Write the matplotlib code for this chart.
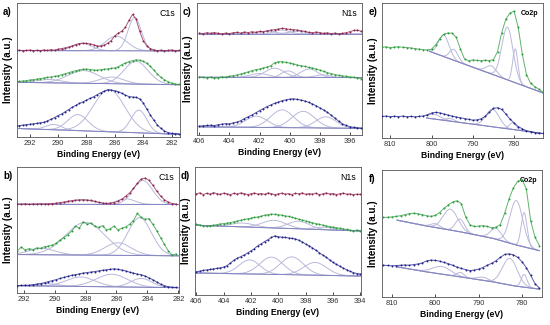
import numpy as np
import matplotlib
matplotlib.use('Agg')
import matplotlib.pyplot as plt

plt.rcParams['font.family'] = ['Liberation Sans', 'DejaVu Sans']

RED = '#8a1f4a'
GREEN = '#2b9a3c'
BLUE = '#1f1f88'
COMP = '#b9b9db'
BASE = '#7c7cbc'

# ---------- a) C1s ----------
a_lim = (293.0, 281.5)
a_red = [.645, .648, .643, .646, .649, .644, .647, .645, .650, .646, .652, .648,
         .655, .660, .665, .672, .680, .690, .697, .700, .698, .695, .688, .680,
         .678, .685, .700, .720, .755, .775, .790, .820, .870, .915, .880, .790,
         .720, .680, .660, .650, .645, .648, .643, .646, .650, .644, .646]
a_green = [.410, .415, .418, .420, .425, .428, .432, .436, .440, .445, .448, .452,
           .457, .465, .472, .480, .488, .495, .500, .505, .507, .503, .500, .498,
           .502, .505, .508, .512, .515, .525, .540, .552, .562, .570, .575, .573,
           .565, .550, .528, .500, .470, .445, .428, .412, .402, .396, .392]
a_blue = [.080, .085, .088, .092, .095, .098, .102, .106, .110, .120, .132, .145,
          .160, .172, .188, .205, .222, .236, .250, .262, .275, .288, .300, .315,
          .330, .342, .352, .350, .345, .338, .326, .312, .302, .298, .296, .285,
          .255, .210, .165, .125, .090, .065, .045, .033, .027, .025, .024]
a_base = {'red': ([293, 281.5], [.645, .642]),
          'green': ([293, 281.5], [.408, .390]),
          'blue': ([293, 281.5], [.064, .020])}
a_peaks = {'red': [(284.6, 1.1, .25), (285.9, 1.8, .11), (288.3, 1.6, .055)],
           'green': [(284.5, 2.0, .17), (286.2, 2.0, .05), (288.2, 2.6, .095), (290.6, 2.0, .025)],
           'blue': [(284.3, 1.3, .17), (286.4, 2.6, .315), (288.6, 1.7, .12), (290.3, 1.3, .04)]}

# ---------- b) C1s ----------
b_lim = (292.4, 282.15)
b_red = [.706, .704, .708, .703, .707, .705, .709, .706, .708, .710, .713, .718,
         .722, .728, .733, .737, .739, .740, .738, .735, .728, .720, .714, .711,
         .713, .718, .728, .745, .768, .795, .830, .870, .905, .912, .895, .855,
         .810, .770, .740, .720, .710, .706]
b_green = [.335, .365, .340, .352, .345, .358, .355, .368, .372, .380, .395, .420,
           .440, .462, .490, .530, .515, .565, .545, .555, .530, .520, .535, .500,
           .510, .530, .500, .515, .525, .545, .575, .632, .600, .585, .590, .545,
           .495, .440, .385, .335, .300, .310]
b_blue = [.058, .060, .062, .060, .066, .070, .075, .082, .090, .098, .106, .115,
          .124, .132, .140, .146, .152, .158, .162, .166, .170, .175, .180, .184,
          .188, .192, .188, .182, .175, .165, .158, .150, .145, .135, .120, .105,
          .088, .070, .058, .050, .046, .044]
b_base = {'red': ([292.4, 282.0], [.704, .702]),
          'green': ([292.4, 282.0], [.305, .295]),
          'blue': ([292.4, 282.0], [.058, .042])}
b_peaks = {'red': [(284.3, 1.5, .19), (285.4, 1.4, .045), (288.2, 1.8, .035)],
           'green': [(284.5, 1.8, .30), (285.9, 2.0, .10), (288.0, 3.0, .26), (290.8, 2.0, .05)],
           'blue': [(284.4, 1.6, .07), (286.3, 2.4, .10), (288.3, 2.2, .075), (290.5, 1.6, .02)]}

# ---------- c) N1s ----------
c_lim = (406.0, 395.25)
c_red = [.772, .768, .775, .770, .776, .770, .766, .772, .768, .775, .778, .772,
         .780, .776, .782, .778, .785, .782, .790, .794, .798, .803, .808, .805,
         .800, .798, .795, .790, .785, .778, .774, .780, .776, .770, .774, .768,
         .772, .766, .770, .775, .783, .792, .795, .785]
c_green = [.440, .436, .432, .438, .430, .434, .440, .438, .445, .450, .455, .462,
           .470, .478, .488, .495, .500, .508, .515, .525, .548, .555, .556, .550,
           .545, .540, .530, .525, .520, .512, .508, .500, .492, .482, .472, .465,
           .458, .452, .448, .445, .440, .438, .432, .428]
c_blue = [.068, .070, .072, .074, .071, .078, .082, .086, .084, .092, .098, .108,
          .125, .138, .152, .168, .185, .200, .215, .228, .240, .250, .260, .267,
          .272, .274, .270, .265, .258, .248, .236, .222, .206, .190, .172, .150,
          .128, .105, .085, .072, .063, .058, .055, .052]
c_base = {'red': ([406, 395.2], [.765, .765]),
          'green': ([406, 395.2], [.437, .435]),
          'blue': ([406, 395.2], [.062, .050])}
c_peaks = {'red': [(401.5, 1.4, .02), (400.5, 1.2, .03), (399.5, 1.4, .02)],
           'green': [(402.0, 1.4, .03), (401.0, 1.5, .07), (400.1, 1.0, .05), (398.7, 1.3, .065), (397.8, 1.2, .02)],
           'blue': [(402.2, 1.7, .085), (400.5, 1.8, .135), (399.1, 1.8, .125), (397.6, 1.6, .085)]}

# ---------- d) N1s ----------
d_lim = (406.0, 394.0)
d_red = [.790, .798, .785, .794, .788, .800, .792, .786, .796, .790, .784, .795,
         .788, .798, .792, .785, .790, .797, .788, .793, .786, .798, .791, .784,
         .790, .796, .788, .792, .785, .794, .790, .798, .786, .792, .788, .795,
         .784, .790, .797, .789, .793, .785, .791, .796, .787, .790, .784, .788, .786]
d_green = [.553, .548, .540, .536, .542, .545, .550, .555, .558, .562, .566, .572,
           .578, .584, .590, .595, .600, .606, .610, .616, .624, .628, .632, .630,
           .627, .624, .618, .614, .608, .600, .592, .586, .578, .572, .565, .558,
           .552, .546, .540, .535, .530, .526, .522, .516, .512, .508, .500, .508, .502]
d_blue = [.182, .186, .192, .196, .200, .204, .208, .212, .218, .230, .250, .272,
          .288, .300, .312, .328, .345, .362, .385, .400, .418, .432, .450, .462,
          .455, .452, .450, .446, .442, .438, .428, .415, .398, .385, .368, .350,
          .330, .312, .295, .275, .255, .240, .225, .210, .198, .185, .175, .168, .164]
d_base = {'green': ([406, 394], [.545, .500]),
          'blue': ([406, 394], [.172, .148])}
d_peaks = {'red': [],
           'green': [(402.6, 2.0, .03), (400.3, 2.0, .06), (398.5, 1.8, .06), (396.6, 1.8, .02)],
           'blue': [(402.1, 1.8, .11), (400.5, 2.0, .135), (399.0, 2.0, .14), (397.3, 2.0, .10)]}

# ---------- e) Co2p ----------
e_lim = (812.0, 773.0)
e_green = [.672, .675, .670, .673, .676, .672, .670, .667, .662, .658, .654, .652,
           .658, .690, .735, .768, .778, .776, .745, .660, .585, .572, .578, .575,
           .572, .576, .574, .580, .640, .780, .880, .925, .940, .820, .620, .470,
           .405, .380, .362, .340]
e_blue = [.160, .162, .158, .161, .159, .162, .158, .160, .157, .160, .163, .172,
          .185, .190, .186, .178, .170, .162, .155, .150, .144, .138, .132, .134,
          .142, .160, .190, .220, .224, .212, .178, .140, .112, .085, .068, .054,
          .048, .040, .036, .034]
e_base = {'green': ([800.5, 773.0], [.642, .334]),
          'blue': ([801.2, 773.5], [.148, .035])}
e_peaks = {'green': [(797.0, 3.0, .16), (794.6, 2.4, .08), (785.5, 3.0, .06), (781.6, 3.2, .39), (779.7, 1.5, .25)],
           'blue': [(799.4, 4.0, .035), (795.5, 2.5, .02), (785.2, 3.8, .13), (780.3, 2.0, .05)]}

# ---------- f) Co2p ----------
f_lim = (812.0, 776.0)
f_green = [.626, .628, .630, .635, .640, .648, .656, .660, .655, .648, .640, .635,
           .642, .665, .698, .725, .748, .758, .735, .630, .568, .555, .558, .562,
           .555, .545, .550, .570, .660, .770, .860, .910, .925, .850, .600, .470, .405]
f_blue = [.250, .248, .245, .247, .250, .252, .250, .255, .260, .268, .285, .290,
          .288, .282, .272, .262, .250, .235, .225, .215, .208, .212, .220, .232,
          .250, .265, .285, .312, .335, .340, .332, .312, .278, .230, .170, .105, .070]
f_base = {'green': ([808.8, 801.9, 794.2, 786.5, 781.2, 776.0], [.605, .558, .513, .460, .408, .365]),
          'blue': ([808.8, 801.9, 794.2, 786.5, 781.2, 776.0], [.237, .197, .158, .118, .084, .062])}
f_peaks = {'green': [(800.0, 2.5, .03), (796.5, 4.0, .165), (794.3, 2.5, .10), (786.0, 3.0, .085), (781.3, 3.5, .35), (779.5, 1.6, .27)],
           'blue': [(798.5, 5.0, .06), (794.2, 2.0, .035), (789.0, 3.0, .025), (782.8, 4.0, .21), (779.5, 1.6, .10)]}


def spectrum(ax, lim, y, color, base=None, peaks=()):
    if base is not None:
        be, by = np.array(base[0], float), np.array(base[1], float)
        order = np.argsort(be)
        xx = np.linspace(be.min(), be.max(), 400)
        bb = np.interp(xx, be[order], by[order])
        for c, w, a in peaks:
            ax.plot(xx, bb + a * np.exp(-4 * np.log(2) * ((xx - c) / w) ** 2), color=COMP, lw=0.7, zorder=2)
        ax.plot(be, by, color=BASE, lw=0.6, zorder=3)
    x = np.linspace(lim[0], lim[1], len(y))
    ax.plot(x, y, color=color, lw=0.7, alpha=0.75, zorder=4)
    ax.plot(x, y, 'o', color=color, ms=1.4, mew=0, zorder=5)


def style(ax, lim, ticks, letter, tag, tagbold=False):
    ax.set_xlim(lim)
    ax.set_ylim(0, 1)
    ax.set_yticks([])
    ax.set_xticks(ticks)
    ax.tick_params(axis='x', direction='in', length=2, width=0.5, labelsize=5.3,
                   labelcolor='#333333', pad=2)
    for s in ax.spines.values():
        s.set_color('#555555')
        s.set_linewidth(0.6)
    ax.set_xlabel('Binding Energy (eV)', fontsize=6.2, fontweight='bold', labelpad=2)
    ax.set_ylabel('Intensity (a.u.)', fontsize=7, fontweight='bold', labelpad=3)
    ax.text(0.97, 0.92, tag, transform=ax.transAxes, ha='right', va='center',
            fontsize=5 if tagbold else 6.3, fontweight='bold' if tagbold else 'normal')
    ax.text(-0.085, 0.93, letter, transform=ax.transAxes, ha='left', va='center',
            fontsize=7, fontweight='bold')


fig = plt.figure(figsize=(5.5, 3.25), dpi=100)

axa = fig.add_axes([.0309, .5785, .2964, .4123])
spectrum(axa, a_lim, a_red, RED, a_base['red'], a_peaks['red'])
spectrum(axa, a_lim, a_green, GREEN, a_base['green'], a_peaks['green'])
spectrum(axa, a_lim, a_blue, BLUE, a_base['blue'], a_peaks['blue'])
style(axa, (292.9, 281.4), np.arange(292, 281, -2), 'a)', 'C1s')

axc = fig.add_axes([.3582, .5846, .3, .4062])
spectrum(axc, c_lim, c_red, RED, c_base['red'], c_peaks['red'])
spectrum(axc, c_lim, c_green, GREEN, c_base['green'], c_peaks['green'])
spectrum(axc, c_lim, c_blue, BLUE, c_base['blue'], c_peaks['blue'])
style(axc, (406.15, 395.2), np.arange(406, 395, -2), 'c)', 'N1s')

axe = fig.add_axes([.6945, .5754, .2927, .4154])
spectrum(axe, e_lim, e_green, GREEN, e_base['green'], e_peaks['green'])
spectrum(axe, e_lim, e_blue, BLUE, e_base['blue'], e_peaks['blue'])
style(axe, (812, 773), [810, 800, 790, 780], 'e)', 'Co2p', tagbold=True)

axb = fig.add_axes([.0309, .0985, .2945, .3877])
spectrum(axb, b_lim, b_red, RED, b_base['red'], b_peaks['red'])
spectrum(axb, b_lim, b_green, GREEN, b_base['green'], b_peaks['green'])
spectrum(axb, b_lim, b_blue, BLUE, b_base['blue'], b_peaks['blue'])
style(axb, (292.43, 281.96), np.arange(292, 281, -2), 'b)', 'C1s')

axd = fig.add_axes([.3545, .0923, .3018, .3938])
spectrum(axd, d_lim, d_red, RED)
spectrum(axd, d_lim, d_green, GREEN, d_base['green'], d_peaks['green'])
spectrum(axd, d_lim, d_blue, BLUE, d_base['blue'], d_peaks['blue'])
style(axd, (406.1, 393.95), np.arange(406, 393, -2), 'd)', 'N1s')

axf = fig.add_axes([.6945, .0862, .2909, .3908])
spectrum(axf, f_lim, f_green, GREEN, f_base['green'], f_peaks['green'])
spectrum(axf, f_lim, f_blue, BLUE, f_base['blue'], f_peaks['blue'])
style(axf, (812.3, 775.4), [810, 800, 790, 780], 'f)', 'Co2p', tagbold=True)

fig.savefig('out.png', dpi=100)
